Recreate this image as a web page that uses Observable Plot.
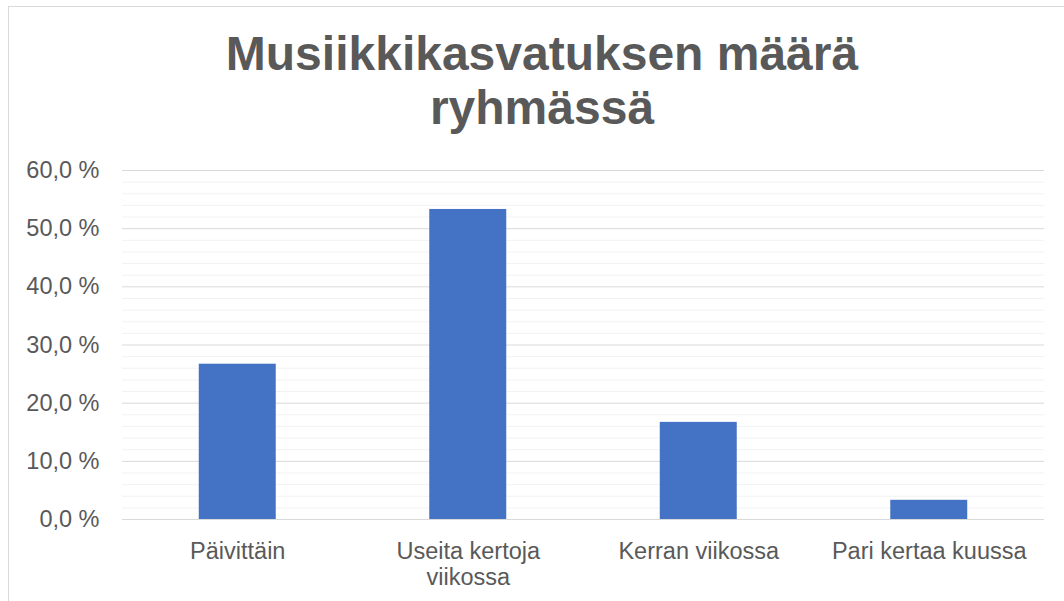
<!DOCTYPE html>
<html>
<head>
<meta charset="utf-8">
<script src="https://cdn.jsdelivr.net/npm/d3@7"></script>
<script src="https://cdn.jsdelivr.net/npm/@observablehq/plot@0.6"></script>
<style>
html, body { margin: 0; padding: 0; background: #fff; width: 1064px; height: 601px; overflow: hidden; font-family: "Liberation Sans", Arial, sans-serif; }
#frame { position: absolute; left: 8px; top: 6px; width: 1200px; height: 800px; border: 1px solid #d9d9d9; pointer-events: none; }
#title { width: 1064px; height: 140px; box-sizing: border-box; padding-top: 27px; padding-left: 20px; text-align: center; font-weight: bold; font-size: 48px; line-height: 54px; color: #595959; }
#chart svg { display: block; }
</style>
</head>
<body>
<div id="title">Musiikkikasvatuksen määrä<br>ryhmässä</div>
<div id="chart"></div>
<div id="frame"></div>
<script>
const categories = ["Päivittäin", "Useita kertoja viikossa", "Kerran viikossa", "Pari kertaa kuussa"];
const categoryLabels = ["Päivittäin", "Useita kertoja\nviikossa", "Kerran viikossa", "Pari kertaa kuussa"];
const shares = [26.7, 53.3, 16.7, 3.3];
const yTicks = [0, 10, 20, 30, 40, 50, 60];
const minorTicks = [2, 4, 6, 8, 12, 14, 16, 18, 22, 24, 26, 28, 32, 34, 36, 38, 42, 44, 46, 48, 52, 54, 56, 58];

const data = categories.map((c, i) => ({category: c, share: shares[i]}));
const labelOf = new Map(categories.map((c, i) => [c, categoryLabels[i]]));
const fmt = d => d.toFixed(1).replace(".", ",") + " %";

const chart = Plot.plot({
  width: 1064,
  height: 461,
  marginTop: 30,
  marginBottom: 82,
  marginLeft: 122,
  marginRight: 20,
  style: {fontFamily: '"Liberation Sans", Arial, sans-serif', fontSize: "23.5px", color: "#595959", background: "transparent"},
  x: {domain: categories, paddingInner: 0.666, paddingOuter: 0.333, round: false},
  y: {domain: [0, 60]},
  marks: [
    Plot.gridY(minorTicks, {stroke: "#f2f2f2", strokeOpacity: 1}),
    Plot.gridY(yTicks.slice(1), {stroke: "#d9d9d9", strokeOpacity: 1}),
    Plot.barY(data, {x: "category", y: "share", fill: "#4472C4"}),
    Plot.ruleY([0], {stroke: "#d9d9d9"}),
    Plot.axisY(yTicks, {tickSize: 0, tickPadding: 23, tickFormat: fmt, label: null, fontSize: 23.5}),
    Plot.axisX({tickSize: 0, tickPadding: 21, tickFormat: d => labelOf.get(d), label: null, lineHeight: 1.1, fontSize: 23.5})
  ]
});
document.getElementById("chart").appendChild(chart);
</script>
</body>
</html>
